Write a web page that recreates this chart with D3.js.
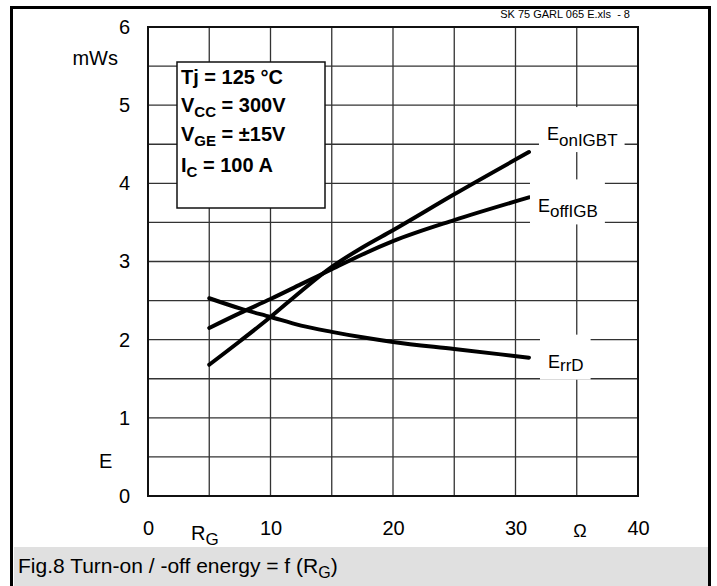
<!DOCTYPE html>
<html>
<head>
<meta charset="utf-8">
<script src="https://cdn.jsdelivr.net/npm/d3@7"></script>
<style>
  html, body { margin: 0; padding: 0; background: #fff; }
  svg text { font-family: "Liberation Sans", Arial, Helvetica, sans-serif; fill: #000; }
</style>
</head>
<body>
<svg id="chart" width="717" height="586"></svg>
<script>
// Gate resistance R_G in ohms
const rg = [5, 7.5, 10, 12.5, 15, 17.5, 20, 25, 31.1];
// Switching energies in mWs
const eOnIGBT  = [1.68, 1.98, 2.29, 2.62, 2.93, 3.18, 3.40, 3.86, 4.40];
const eOffIGBT = [2.15, 2.34, 2.52, 2.71, 2.90, 3.09, 3.26, 3.53, 3.82];
const eRrD     = [2.53, 2.40, 2.29, 2.18, 2.10, 2.03, 1.97, 1.88, 1.77];

const xTicks = [0, 10, 20, 30, 40];
const yTicks = [0, 1, 2, 3, 4, 5, 6];
const xGrid = [5, 10, 15, 20, 25, 30, 35];
const yGrid = [0.5, 1, 1.5, 2, 2.5, 3, 3.5, 4, 4.5, 5, 5.5];

const conditions = [
  { main: "Tj = 125 °C", sub: "", rest: "" },
  { main: "V", sub: "CC", rest: " = 300V" },
  { main: "V", sub: "GE", rest: " = ±15V" },
  { main: "I", sub: "C", rest: " = 100 A" }
];

const svg = d3.select("#chart");

// Page frame and caption strip
svg.append("rect").attr("x", 14).attr("y", 547).attr("width", 694).attr("height", 39).attr("fill", "#e0e0e0");
svg.append("path")
  .attr("d", "M11.5,586 V7.5 H709.5 V586")
  .attr("fill", "none").attr("stroke", "#000").attr("stroke-width", 3);

const x = d3.scaleLinear().domain([0, 40]).range([148, 638]);
const y = d3.scaleLinear().domain([0, 6]).range([496, 27]);

// Grid
const g = svg.append("g");
g.selectAll("line.vx").data(xGrid).join("line")
  .attr("x1", d => x(d)).attr("x2", d => x(d))
  .attr("y1", y(0)).attr("y2", y(6))
  .attr("stroke", "#333").attr("stroke-width", 1.3);
g.selectAll("line.hy").data(yGrid).join("line")
  .attr("x1", x(0)).attr("x2", x(40))
  .attr("y1", d => y(d)).attr("y2", d => y(d))
  .attr("stroke", "#333").attr("stroke-width", 1.3);
g.append("rect")
  .attr("x", x(0)).attr("y", y(6))
  .attr("width", x(40) - x(0)).attr("height", y(0) - y(6))
  .attr("fill", "none").attr("stroke", "#111").attr("stroke-width", 2);

// Axes (labels only, the grid carries the lines)
const yAxis = d3.axisLeft(y).tickValues(yTicks).tickSize(0).tickPadding(18).tickFormat(d3.format("d"));
const xAxis = d3.axisBottom(x).tickValues(xTicks).tickSize(0).tickPadding(25).tickFormat(d3.format("d"));
const ya = svg.append("g").attr("transform", `translate(${x(0)},0)`).call(yAxis);
const xa = svg.append("g").attr("transform", `translate(0,${y(0)})`).call(xAxis);
[ya, xa].forEach(a => {
  a.select(".domain").remove();
  a.selectAll("text").attr("font-size", 20).attr("font-family", "Liberation Sans, Arial, sans-serif").attr("fill", "#000");
});

// Axis titles
svg.append("text").attr("x", 118).attr("y", 65).attr("text-anchor", "end").attr("font-size", 20).text("mWs");
svg.append("text").attr("x", 99).attr("y", 468).attr("font-size", 20).text("E");
const rgLabel = svg.append("text").attr("x", 191).attr("y", 540).attr("font-size", 20);
rgLabel.append("tspan").text("R");
rgLabel.append("tspan").attr("dy", 5).attr("font-size", 17).text("G");
svg.append("text").attr("x", 580).attr("y", 537).attr("text-anchor", "middle").attr("font-size", 18).text("Ω");

// File reference above the plot
svg.append("text").attr("x", 630).attr("y", 18).attr("text-anchor", "end").attr("font-size", 11)
  .attr("xml:space", "preserve").text("SK 75 GARL 065 E.xls  - 8");

// Curves
const series = [
  { main: "E", sub: "onIGBT", values: eOnIGBT,  dx: 18, dy: -12, sdy: 6 },
  { main: "E", sub: "offIGB", values: eOffIGBT, dx: 9,  dy: 15,  sdy: 5 },
  { main: "E", sub: "rrD",    values: eRrD,     dx: 19, dy: 10,  sdy: 3 }
];
const line = d3.line().x((d, i) => x(rg[i])).y(d => y(d)).curve(d3.curveMonotoneX);

svg.append("g").selectAll("path").data(series).join("path")
  .attr("d", s => line(s.values))
  .attr("fill", "none").attr("stroke", "#000")
  .attr("stroke-width", 4).attr("stroke-linecap", "round");

// Curve labels with white backing that interrupts the grid
series.forEach(s => {
  const last = rg.length - 1;
  const tx = x(rg[last]) + s.dx;
  const ty = y(s.values[last]) + s.dy;
  const lg = svg.append("g");
  const bg = lg.append("rect").attr("fill", "#fff");
  const t = lg.append("text").attr("x", tx).attr("y", ty).attr("font-size", 18);
  t.append("tspan").text(s.main);
  t.append("tspan").attr("dy", s.sdy).attr("font-size", 17).text(s.sub);
  const bb = t.node().getBBox();
  bg.attr("x", tx - 8).attr("y", ty - 33).attr("width", bb.width + 15).attr("height", 45);
});

// Test conditions box
const box = svg.append("g");
box.append("rect").attr("x", 177).attr("y", 62).attr("width", 148).attr("height", 146)
  .attr("fill", "#fff").attr("stroke", "#111").attr("stroke-width", 1.5);
const baselines = [84, 112, 141, 172];
conditions.forEach((c, i) => {
  const t = box.append("text").attr("x", 181).attr("y", baselines[i])
    .attr("font-size", 20).attr("font-weight", "bold");
  t.append("tspan").text(c.main);
  if (c.sub) {
    t.append("tspan").attr("dy", 5).attr("font-size", 15).text(c.sub);
    t.append("tspan").attr("dy", -5).text(c.rest);
  }
});

// Caption
const cap = svg.append("text").attr("x", 18).attr("y", 573).attr("font-size", 21);
cap.append("tspan").text("Fig.8 Turn-on / -off energy = f (R");
cap.append("tspan").attr("dy", 5).attr("font-size", 16).text("G");
cap.append("tspan").attr("dy", -5).text(")");
</script>
</body>
</html>
